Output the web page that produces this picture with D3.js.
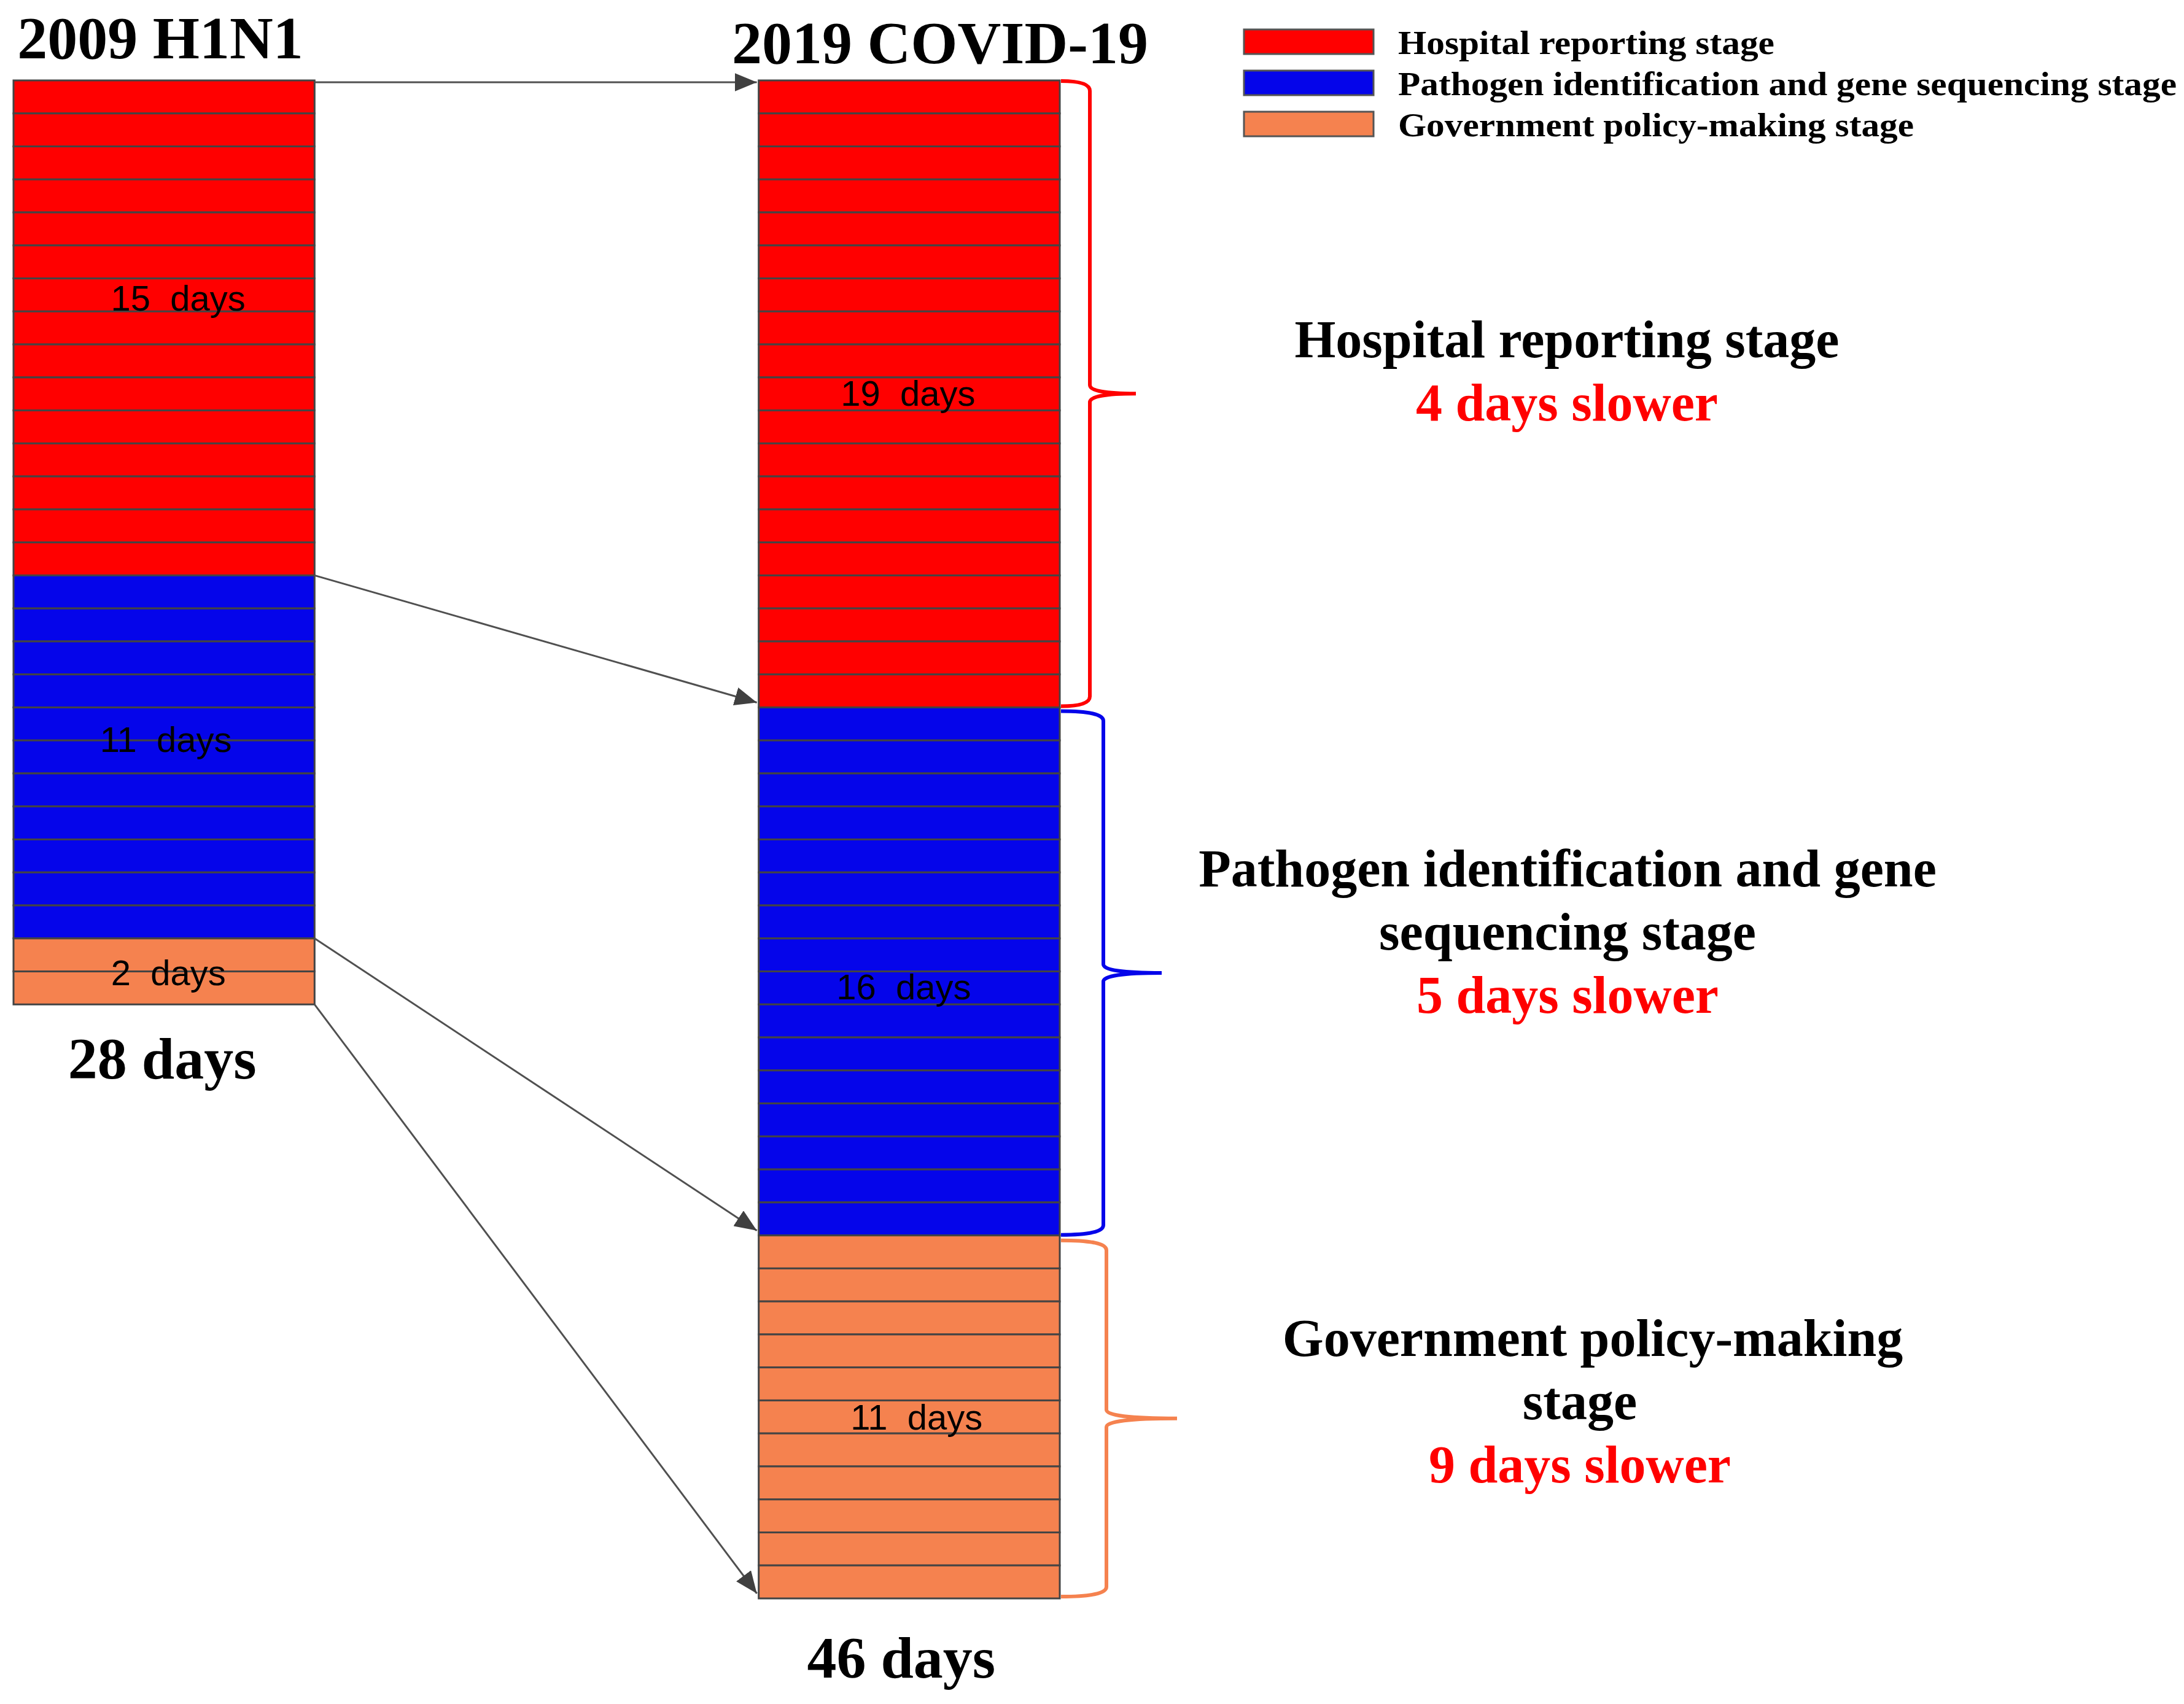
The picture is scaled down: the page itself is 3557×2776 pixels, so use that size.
<!DOCTYPE html>
<html>
<head>
<meta charset="utf-8">
<script src="https://cdn.jsdelivr.net/npm/d3@7"></script>
<style>
  body { margin: 0; background: #fff; }
  svg { display: block; }
</style>
</head>
<body>
<svg id="chart"></svg>
<script>
// data
const diseases = ["2009 H1N1", "2019 COVID-19"];
const stages = ["Hospital reporting stage", "Pathogen identification and gene sequencing stage", "Government policy-making stage"];
const h1n1Days = [15, 11, 2];
const covidDays = [19, 16, 11];
const stageColors = ["#ff0000", "#0505ea", "#f5824f"];
const stageLines = [
  ["Hospital reporting stage"],
  ["Pathogen identification and gene", "sequencing stage"],
  ["Government policy-making", "stage"]
];

const width = 3557, height = 2776;
const svg = d3.select("#chart").attr("width", width).attr("height", height);

const serif = "'Liberation Serif', 'Times New Roman', serif";
const sans = "'Liberation Sans', Arial, sans-serif";

const daysByDisease = [h1n1Days, covidDays];
const totals = daysByDisease.map(d => d3.sum(d));

// Scales
const x = d3.scaleBand().domain(diseases).range([22, 1726]).paddingInner(0.596).paddingOuter(0);
const y = d3.scaleLinear().domain([0, d3.max(totals)]).range([131, 2604]);

// cumulative boundaries
const bounds = daysByDisease.map(days => [0, ...d3.cumsum(days)]);

// Cells, one rect per day
diseases.forEach((dis, i) => {
  const cells = [];
  daysByDisease[i].forEach((n, s) => {
    for (let k = 0; k < n; k++) cells.push({ day: bounds[i][s] + k, stage: s });
  });
  svg.append("g")
    .selectAll("rect")
    .data(cells)
    .join("rect")
    .attr("x", x(dis))
    .attr("width", x.bandwidth())
    .attr("y", d => y(d.day))
    .attr("height", d => y(d.day + 1) - y(d.day))
    .attr("fill", d => stageColors[d.stage])
    .attr("stroke", "#444")
    .attr("stroke-width", 3);
});

// Labels inside the blocks (small nudges to follow the original placement)
const labelNudge = [
  [[23, -49], [3, -29], [7, 2]],
  [[-2, -2], [-9, 25], [12, 0]]
];
diseases.forEach((dis, i) => {
  svg.append("g")
    .selectAll("text")
    .data(daysByDisease[i])
    .join("text")
    .attr("x", (d, s) => x(dis) + x.bandwidth() / 2 + labelNudge[i][s][0])
    .attr("y", (d, s) => y((bounds[i][s] + bounds[i][s + 1]) / 2) + labelNudge[i][s][1])
    .attr("dy", "0.36em")
    .attr("text-anchor", "middle")
    .style("white-space", "pre")
    .attr("font-family", sans)
    .attr("font-size", 58)
    .attr("fill", "#000")
    .text(d => d + "  days");
});

// Titles
const titleX = [261, 1531], titleY = [95, 103];
svg.append("g")
  .selectAll("text")
  .data(diseases)
  .join("text")
  .attr("x", (d, i) => titleX[i])
  .attr("y", (d, i) => titleY[i])
  .attr("text-anchor", "middle")
  .attr("font-family", serif)
  .attr("font-weight", "bold")
  .attr("font-size", 98)
  .text(d => d);

// Totals under bars
const totalNudge = [-3, -13];
svg.append("g")
  .selectAll("text")
  .data(totals)
  .join("text")
  .attr("x", (d, i) => x(diseases[i]) + x.bandwidth() / 2 + totalNudge[i])
  .attr("y", (d, i) => y(d) + [121, 129][i])
  .attr("text-anchor", "middle")
  .attr("font-family", serif)
  .attr("font-weight", "bold")
  .attr("font-size", 96)
  .text(d => d + " days");

// Arrows between stage boundaries
svg.append("defs").append("marker")
  .attr("id", "arrow")
  .attr("markerUnits", "userSpaceOnUse")
  .attr("viewBox", "0 0 36 30")
  .attr("markerWidth", 36)
  .attr("markerHeight", 30)
  .attr("refX", 36)
  .attr("refY", 15)
  .attr("orient", "auto")
  .append("path")
  .attr("d", "M0,0 L36,15 L0,30 Z")
  .attr("fill", "#404040");

const leftEdge = x(diseases[0]) + x.bandwidth();
const rightStart = x(diseases[1]);
svg.append("g")
  .selectAll("line")
  .data(d3.range(bounds[0].length))
  .join("line")
  .attr("x1", leftEdge)
  .attr("y1", k => y(bounds[0][k]) + (k === 0 ? 3 : 0))
  .attr("x2", rightStart - 3)
  .attr("y2", k => y(bounds[1][k]) + (k === 0 ? 3 : -8))
  .attr("stroke", "#505050")
  .attr("stroke-width", 3)
  .attr("marker-end", "url(#arrow)");

// Braces on the right of the COVID bar
const barRight = x(diseases[1]) + x.bandwidth() + 2;
const braceX = [1775, 1797, 1802];
const tipX = [1850, 1892, 1917];
const gaps = [[1, -2], [6, -1], [8, -3]];
function bracePath(s) {
  const y0 = y(bounds[1][s]) + gaps[s][0];
  const y1 = y(bounds[1][s + 1]) + gaps[s][1];
  const ym = (y0 + y1) / 2;
  const xv = braceX[s], xt = tipX[s];
  const r = 16, r2 = 14;
  return `M${barRight},${y0} Q${xv},${y0} ${xv},${y0 + r} L${xv},${ym - r2} Q${xv},${ym} ${xt},${ym}` +
    ` M${xt},${ym} Q${xv},${ym} ${xv},${ym + r2} L${xv},${y1 - r} Q${xv},${y1} ${barRight},${y1}`;
}
svg.append("g")
  .selectAll("path")
  .data(stages)
  .join("path")
  .attr("d", (d, s) => bracePath(s))
  .attr("fill", "none")
  .attr("stroke", (d, s) => stageColors[s])
  .attr("stroke-width", 6);

// Stage descriptions with the delay
const blockPos = [{ x: 2552, y: 582 }, { x: 2553, y: 1444 }, { x: 2573, y: 2209 }];
const lineH = 103;
stageLines.forEach((lines, s) => {
  const g = svg.append("g")
    .attr("font-family", serif)
    .attr("font-weight", "bold")
    .attr("font-size", 86)
    .attr("text-anchor", "middle");
  g.selectAll("text.line")
    .data(lines)
    .join("text")
    .attr("class", "line")
    .attr("x", (d, j) => blockPos[s].x + (s === 2 && j === 0 ? 21 : 0))
    .attr("y", (d, j) => blockPos[s].y + j * lineH)
    .attr("fill", "#000")
    .text(d => d);
  g.append("text")
    .attr("x", blockPos[s].x)
    .attr("y", blockPos[s].y + lines.length * lineH)
    .attr("fill", "#ff0000")
    .text((covidDays[s] - h1n1Days[s]) + " days slower");
});

// Legend
const legendW = [613, 1268, 840];
const legend = svg.append("g")
  .selectAll("g")
  .data(stages)
  .join("g")
  .attr("transform", (d, s) => `translate(2026,${48 + s * 67})`);
legend.append("rect")
  .attr("width", 211)
  .attr("height", 40)
  .attr("fill", (d, s) => stageColors[s])
  .attr("stroke", "#555")
  .attr("stroke-width", 3);
legend.append("text")
  .attr("x", 251)
  .attr("y", 40)
  .attr("font-family", serif)
  .attr("font-weight", "bold")
  .attr("font-size", 55)
  .attr("textLength", (d, s) => legendW[s])
  .attr("lengthAdjust", "spacingAndGlyphs")
  .text(d => d);
</script>
</body>
</html>
